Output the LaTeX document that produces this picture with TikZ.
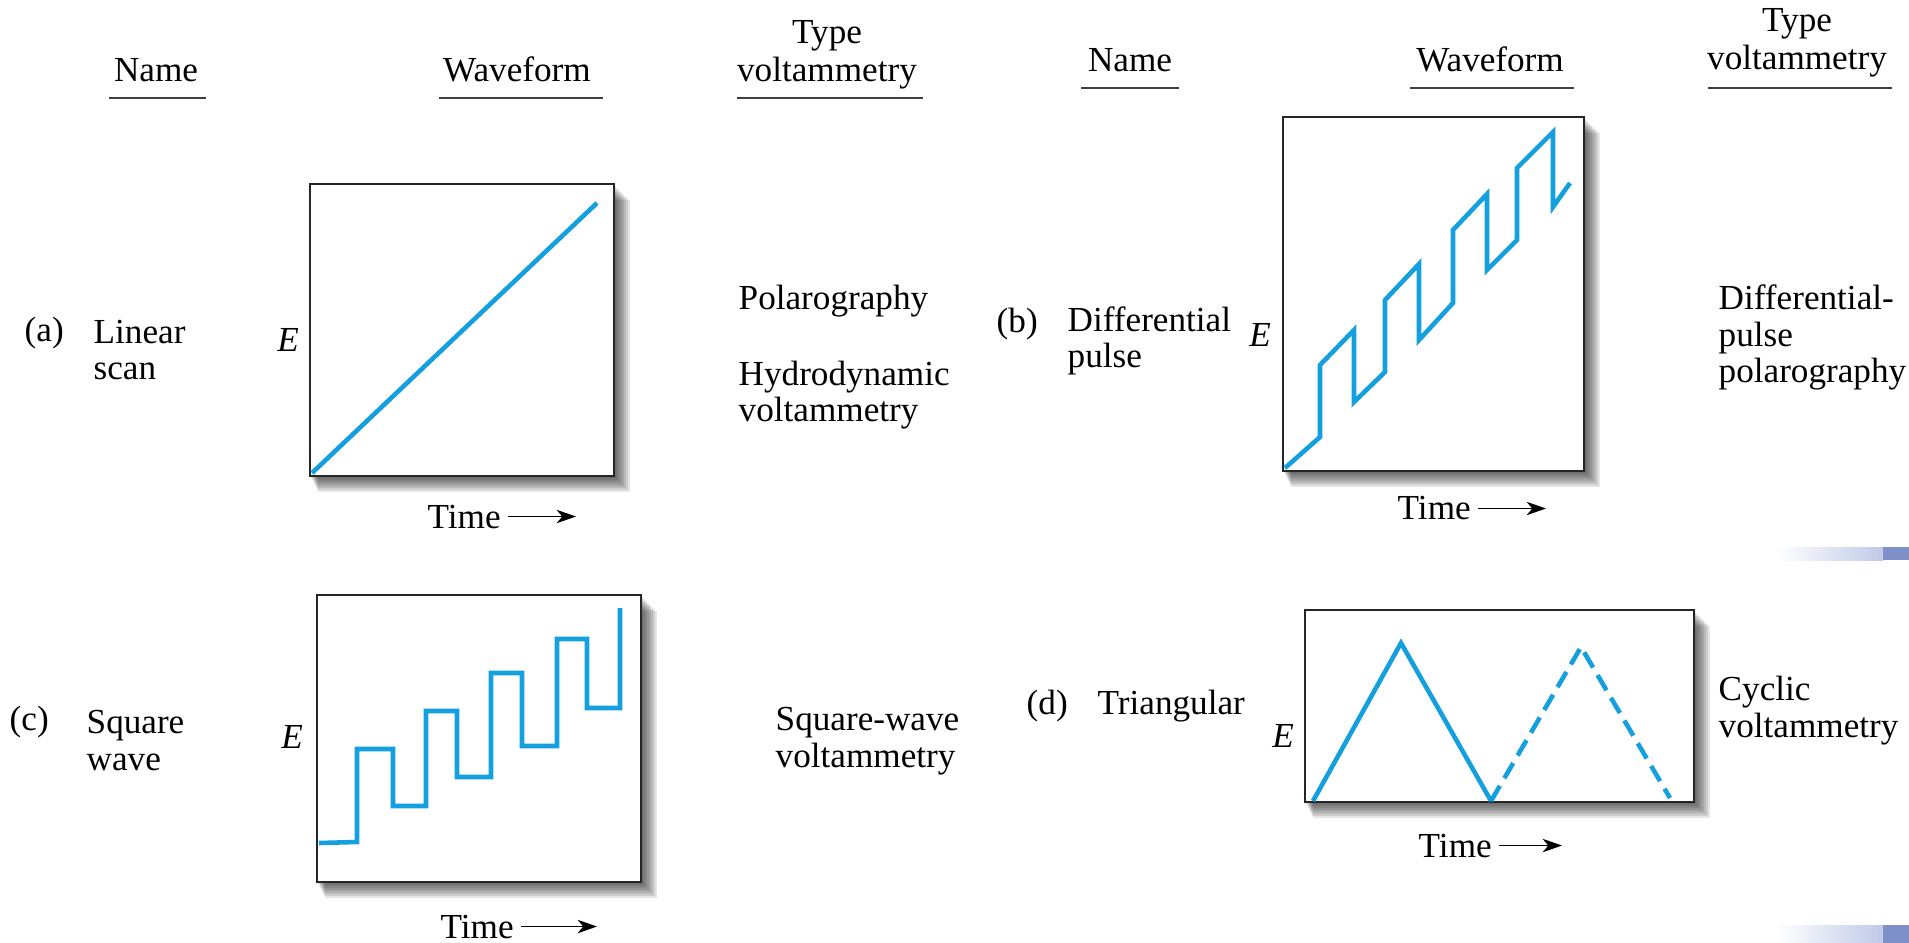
\documentclass[tikz,border=0pt]{standalone}
\usepackage{fontspec}
\setmainfont{Liberation Serif}
\usetikzlibrary{arrows.meta}
\definecolor{wave}{RGB}{20,160,222}
\definecolor{barblue}{RGB}{125,145,200}
\definecolor{barlight}{RGB}{192,202,232}

% framed plot with a soft shadow: x1 y1 x2 y2
\newcommand{\wavebox}[4]{%
  \foreach \d in {2,4,...,16} \fill[black,opacity=0.1] (#1+0.5*\d,#2+\d) rectangle (#3+\d,#4+\d);
  \fill[white] (#1,#2) rectangle (#3,#4);
  \draw[boxline] (#1,#2) rectangle (#3,#4);}

\begin{document}
\begin{tikzpicture}[x=0.01cm,y=-0.01cm,
  txt/.style={anchor=base west,inner sep=0pt,align=left,font=\fontsize{10}{10.5}\selectfont},
  hd/.style={anchor=base,inner sep=0pt,align=center,font=\fontsize{10}{11}\selectfont},
  ee/.style={anchor=base,inner sep=0pt,font=\itshape},
  uline/.style={black!75,line width=0.7pt},
  boxline/.style={black!85,line width=0.6pt},
  wv/.style={wave,line width=1.3pt},
  tarrow/.style={-{Stealth[length=5.5pt,width=3.8pt,inset=1.6pt]},line width=0.5pt}]
  \useasboundingbox (0,0) rectangle (1909,943);

  % slide bars at the right edge
  \shade[left color=white,right color=barlight] (1776,547) rectangle (1883,560); \fill[barblue] (1883,547) rectangle (1909,560);
  \shade[left color=white,right color=barlight] (1776,925) rectangle (1883,943); \fill[barblue] (1883,925) rectangle (1909,943);

  % column heads (base = last line)
  \node[hd] (nameL) at (156,82) {Name}; \node[hd] (waveL) at (517,82) {Waveform}; \node[hd] (typeL) at (827,82) {Type\\voltammetry};
  \draw[uline] (109,98) -- (206,98); \draw[uline] (439,98) -- (603,98); \draw[uline] (737,98) -- (923,98);
  \node[hd] (nameR) at (1130,72) {Name}; \node[hd] (waveR) at (1490,72) {Waveform}; \node[hd] (typeR) at (1797,70) {Type\\voltammetry};
  \draw[uline] (1081,88) -- (1179,88); \draw[uline] (1410,88) -- (1574,88); \draw[uline] (1708,88) -- (1892,88);

  % (a) linear scan
  \node[txt] (tagA) at (24,342) {(a)}; \node[txt] (nmA) at (93,380) {Linear\\scan};
  \node[ee] (eA) at (288,352) {E};
  \wavebox{310}{184}{614}{476}
  \draw[wv] (312,473) -- (597,203);
  \node[txt] (timeA) at (427,528) {Time}; \coordinate (tipA) at (576,0);
  \draw[tarrow] ([xshift=2pt]timeA.east) -- (tipA |- timeA.east);
  \node[txt] (useA) at (738,310) {Polarography}; \node[txt] (useA2) at (738,422) {Hydrodynamic\\voltammetry};

  % (b) differential pulse
  \node[txt] (tagB) at (996,333) {(b)}; \node[txt] (nmB) at (1067,368) {Differential\\pulse};
  \node[ee] (eB) at (1260,347) {E};
  \wavebox{1283}{117}{1584}{471}
  \draw[wv] (1285,468) -- (1320,437) -- (1320,365) -- (1354,330) -- (1354,402) -- (1385,372) -- (1385,300) -- (1419,264) -- (1419,340)
    -- (1453,303) -- (1453,230) -- (1487,194) -- (1487,270) -- (1517,240) -- (1517,168) -- (1553,132) -- (1553,207) -- (1570,183);
  \node[txt] (timeB) at (1397,520) {Time}; \coordinate (tipB) at (1546,0);
  \draw[tarrow] ([xshift=2pt]timeB.east) -- (tipB |- timeB.east);
  \node[txt] (useB) at (1718,383) {Differential-\\pulse\\polarography};

  % (c) square wave
  \node[txt] (tagC) at (9,730) {(c)}; \node[txt] (nmC) at (86,770) {Square\\wave};
  \node[ee] (eC) at (292,748) {E};
  \wavebox{317}{595}{641}{882}
  \draw[wv] (319,843) -- (357,842) -- (357,749) -- (393,749) -- (393,806) -- (426,806) -- (426,711) -- (457,711) -- (457,777) -- (491,777)
    -- (491,673) -- (522,673) -- (522,746) -- (557,746) -- (557,639) -- (587,639) -- (587,708) -- (620,708) -- (620,608);
  \node[txt] (timeC) at (440,938) {Time}; \coordinate (tipC) at (597,0);
  \draw[tarrow] ([xshift=2pt]timeC.east) -- (tipC |- timeC.east);
  \node[txt] (useC) at (775,767) {Square-wave\\voltammetry};

  % (d) triangular
  \node[txt] (tagD) at (1026,714) {(d)}; \node[txt] (nmD) at (1097,714) {Triangular};
  \node[ee] (eD) at (1283,747) {E};
  \wavebox{1305}{610}{1694}{802}
  \draw[wv] (1313,801) -- (1401,643) -- (1491,801);
  \draw[wv,dash pattern=on 5pt off 2.5pt] (1491,801) -- (1581,647) -- (1670,798);
  \node[txt] (timeD) at (1418,857) {Time}; \coordinate (tipD) at (1562,0);
  \draw[tarrow] ([xshift=2pt]timeD.east) -- (tipD |- timeD.east);
  \node[txt] (useD) at (1718,737) {Cyclic\\voltammetry};
\end{tikzpicture}
\end{document}
